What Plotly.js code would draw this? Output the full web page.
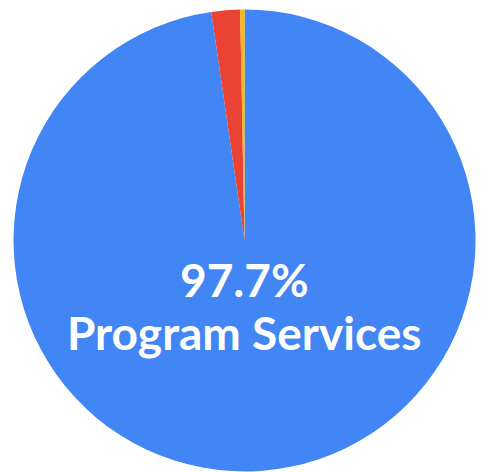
<!DOCTYPE html>
<html>
<head>
<meta charset="utf-8">
<script src="https://cdn.plot.ly/plotly-3.0.1.min.js"></script>
<style>html,body{margin:0;padding:0;background:#fff;}#chart{width:481px;height:472px;}</style>
</head>
<body>
<div id="chart"></div>
<script>
const labels = ["Program Services", "Management & General", "Fundraising"];
const values = [97.7, 2.0, 0.3];
const colors = ["#4285F4", "#EA4335", "#FBBC04"];

const trace = {
  type: "pie",
  labels: labels,
  values: values,
  sort: false,
  direction: "clockwise",
  rotation: 0,
  textinfo: "none",
  hoverinfo: "label+percent",
  marker: { colors: colors, line: { width: 0 } },
  domain: { x: [0.0281, 0.9886], y: [0.0011, 0.9799] },
  showlegend: false
};

const textFont = { family: "Lato, 'Open Sans', sans-serif", size: 46, color: "#ffffff", weight: 700 };

const layout = {
  width: 481,
  height: 472,
  margin: { l: 0, r: 0, t: 0, b: 0 },
  paper_bgcolor: "#ffffff",
  showlegend: false,
  annotations: [{
    text: values[0].toFixed(1) + "%",
    xref: "paper", yref: "paper",
    x: 0.508, y: 0.4068,
    xanchor: "center", yanchor: "middle",
    showarrow: false,
    font: textFont
  }, {
    text: labels[0],
    xref: "paper", yref: "paper",
    x: 0.508, y: 0.2945,
    xanchor: "center", yanchor: "middle",
    showarrow: false,
    font: textFont
  }]
};

Plotly.newPlot("chart", [trace], layout, { staticPlot: true, displayModeBar: false });
</script>
</body>
</html>
